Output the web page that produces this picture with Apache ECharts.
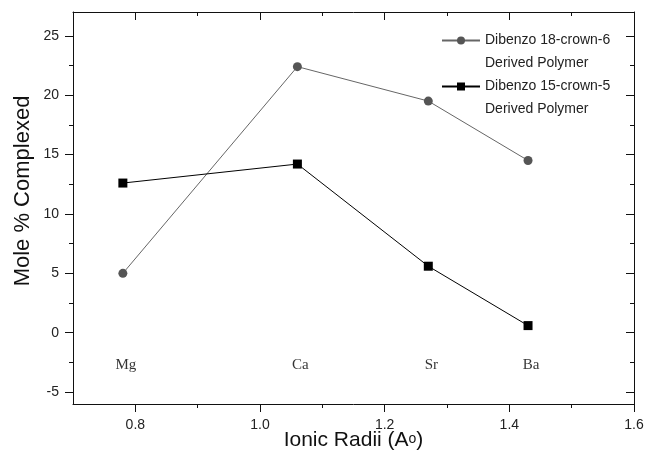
<!DOCTYPE html>
<html>
<head>
<meta charset="utf-8">
<script src="https://cdn.jsdelivr.net/npm/echarts@6.0.0/dist/echarts.min.js"></script>
<style>
  html,body{margin:0;padding:0;background:#fff;}
  #chart{width:646px;height:450px;}
</style>
</head>
<body>
<div id="chart"></div>
<script>
// ionic radii of the cations (x) and mole % complexed (y)
var radii = [0.78, 1.06, 1.27, 1.43];
var elements = ['Mg', 'Ca', 'Sr', 'Ba'];
var crown6 = [5.0, 22.4, 19.5, 14.5];
var crown5 = [12.6, 14.2, 5.6, 0.6];
var elementLabelY = -2.75;

var seriesNames = ['Dibenzo 18-crown-6\nDerived Polymer', 'Dibenzo 15-crown-5\nDerived Polymer'];

var xMajor = [0.8, 1.0, 1.2, 1.4, 1.6];
var xMinor = [0.9, 1.1, 1.3, 1.5];
var yMajor = [-5, 0, 5, 10, 15, 20, 25];
var yMinor = [-2.5, 2.5, 7.5, 12.5, 17.5, 22.5];

var sans = 'Liberation Sans, Arial, sans-serif';
var ink = '#111';

function xAxisDef(pos, ticks, len, inside, main) {
  return {
    type: 'value', position: pos, min: 0.7, max: 1.6,
    axisLine: {show: main, onZero: false, lineStyle: {color: ink, width: 1}},
    axisTick: {show: true, inside: inside, length: len, customValues: ticks, lineStyle: {color: ink, width: 1}},
    axisLabel: {show: false},
    splitLine: {show: false}
  };
}
function yAxisDef(pos, ticks, len, inside, main) {
  return {
    type: 'value', position: pos, min: -6, max: 27,
    axisLine: {show: main, onZero: false, lineStyle: {color: ink, width: 1}},
    axisTick: {show: true, inside: inside, length: len, customValues: ticks, lineStyle: {color: ink, width: 1}},
    axisLabel: {show: false},
    splitLine: {show: false}
  };
}

var xBottom = xAxisDef('bottom', xMajor, 8, false, true);
xBottom.axisLabel = {
  show: true, customValues: xMajor, margin: 14,
  color: '#222', fontFamily: sans, fontSize: 14,
  formatter: function (v) { return v.toFixed(1); }
};
xBottom.name = 'Ionic Radii (A{sup|o})';
xBottom.nameLocation = 'middle';
xBottom.nameGap = 26;
xBottom.nameMoveOverlap = false;
xBottom.nameTextStyle = {
  color: ink, fontFamily: sans, fontSize: 21,
  rich: {sup: {fontFamily: sans, fontSize: 14, color: ink, padding: [0, 0, 3, 0]}}
};

var yLeft = yAxisDef('left', yMajor, 8, false, true);
yLeft.axisLabel = {
  show: true, customValues: yMajor, margin: 14,
  color: '#222', fontFamily: sans, fontSize: 14
};
yLeft.name = 'Mole % Complexed';
yLeft.nameLocation = 'middle';
yLeft.nameGap = 39;
yLeft.nameMoveOverlap = false;
yLeft.nameTextStyle = {color: ink, fontFamily: sans, fontSize: 22, padding: [0, 0, 0, 34]};

var chart = echarts.init(document.getElementById('chart'));
chart.setOption({
  animation: false,
  backgroundColor: '#fff',
  grid: {left: 73, right: 12, top: 12, bottom: 46, containLabel: false, outerBoundsMode: 'none'},
  xAxis: [
    xBottom,
    xAxisDef('bottom', xMinor, 4, false, false),
    xAxisDef('top', xMajor, 8, true, true),
    xAxisDef('top', xMinor, 4, true, false)
  ],
  yAxis: [
    yLeft,
    yAxisDef('left', yMinor, 4, false, false),
    yAxisDef('right', yMajor, 8, true, true),
    yAxisDef('right', yMinor, 4, true, false)
  ],
  legend: {
    data: seriesNames,
    orient: 'vertical',
    left: 441, top: 6,
    padding: 0,
    itemWidth: 38, itemHeight: 10,
    itemGap: -23,
    formatter: function (name) { return '\n' + name; },
    textStyle: {color: '#222', fontFamily: sans, fontSize: 14, lineHeight: 23}
  },
  series: [
    {
      name: seriesNames[0], type: 'line',
      data: radii.map(function (x, i) { return [x, crown6[i]]; }),
      symbol: 'circle', symbolSize: 9,
      itemStyle: {color: '#555'},
      lineStyle: {color: '#666', width: 1}
    },
    {
      name: seriesNames[1], type: 'line',
      data: radii.map(function (x, i) { return [x, crown5[i]]; }),
      symbol: 'rect', symbolSize: 9,
      itemStyle: {color: '#000'},
      lineStyle: {color: '#000', width: 1}
    },
    {
      name: 'elements', type: 'scatter', silent: true,
      data: radii.map(function (x, i) { return {value: [x, elementLabelY], name: elements[i]}; }),
      symbolSize: 0,
      label: {
        show: true, position: 'inside', offset: [3, 0],
        formatter: function (p) { return p.name; },
        color: '#000', fontFamily: 'Liberation Serif, Times New Roman, serif', fontSize: 15
      }
    }
  ]
});
</script>
</body>
</html>
